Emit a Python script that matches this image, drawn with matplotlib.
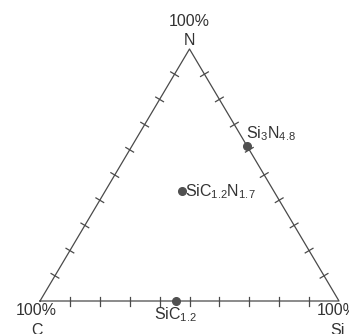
import numpy as np
import matplotlib.pyplot as plt

plt.rcParams['font.family'] = ['Liberation Sans', 'DejaVu Sans']
plt.rcParams['mathtext.default'] = 'regular'

# corners of the diagram (bottom-left, bottom-right, top)
corners = ['C', 'Si', 'N']
corner_pct = ['100%', '100%', '100%']

# compositions as atom counts (Si, C, N)
names = ['SiC$_{1.2}$', 'SiC$_{1.2}$N$_{1.7}$', 'Si$_3$N$_{4.8}$']
si_amt = [1.0, 1.0, 3.0]
c_amt = [1.2, 1.2, 0.0]
n_amt = [0.0, 1.7, 4.8]

tick_fracs = np.arange(1, 10) / 10

# vertex positions (C, Si, N) in plot units
h = 252 / 299
V = np.array([[0.0, 0.0], [1.0, 0.0], [0.5, h]])


def to_xy(c, si, n):
    tot = c + si + n
    w = np.array([c, si, n]) / tot
    return w @ V


fig = plt.figure(figsize=(3.49, 3.34), dpi=100)
ax = fig.add_axes([0, 0, 1, 1])
ax.set_xlim(-40 / 299, 309 / 299)
ax.set_ylim((301 - 334) / 299, 301 / 299)
ax.axis('off')

line_col = '#4a4a4a'
txt_col = '#333333'

tri = np.vstack([V, V[:1]])
ax.plot(tri[:, 0], tri[:, 1], color=line_col, lw=0.9, zorder=1)

# ticks crossing each edge, perpendicular to it
half = 4.5 / 299
for i in range(3):
    a, b = V[i], V[(i + 1) % 3]
    d = (b - a) / np.linalg.norm(b - a)
    nrm = np.array([-d[1], d[0]])
    for f in tick_fracs:
        p = a + f * (b - a)
        ax.plot([p[0] - half * nrm[0], p[0] + half * nrm[0]],
                [p[1] - half * nrm[1], p[1] + half * nrm[1]],
                color=line_col, lw=0.9, zorder=1)

fs = 11.5
# corner labels
ax.text(V[2, 0], V[2, 1] + 0.092, corner_pct[2], ha='center', va='center', fontsize=fs, color=txt_col)
ax.text(V[2, 0], V[2, 1] + 0.030, corners[2], ha='center', va='center', fontsize=fs, color=txt_col)
ax.text(V[0, 0] - 0.013, V[0, 1] - 0.033, corner_pct[0], ha='center', va='center', fontsize=fs, color=txt_col)
ax.text(V[0, 0] - 0.010, V[0, 1] - 0.097, corners[0], ha='center', va='center', fontsize=fs, color=txt_col)
ax.text(V[1, 0] - 0.075, V[1, 1] - 0.033, corner_pct[1], ha='left', va='center', fontsize=fs, color=txt_col)
ax.text(V[1, 0] - 0.030, V[1, 1] - 0.097, corners[1], ha='left', va='center', fontsize=fs, color=txt_col)

pts = np.array([to_xy(c, s, n) for c, s, n in zip(c_amt, si_amt, n_amt)])
ax.plot(pts[:, 0], pts[:, 1], 'o', color='#505050', ms=5.5, zorder=3)

# composition labels
offsets = [(0.0, -0.045, 'center'), (0.012, 0.0, 'left'), (0.0, 0.040, 'left')]
for (x, y), name, (dx, dy, ha) in zip(pts, names, offsets):
    if ha == 'left' and dy > 0:
        x = x - 0.002
    ax.text(x + dx, y + dy, name, ha=ha, va='center', fontsize=fs, color=txt_col)

fig.savefig('out.png', dpi=100)
